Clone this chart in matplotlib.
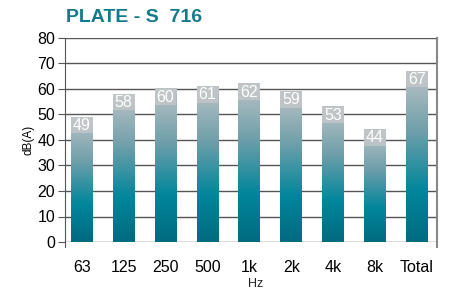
import numpy as np
import matplotlib.pyplot as plt
import matplotlib.transforms as mtransforms
from matplotlib.colors import LinearSegmentedColormap

# Data
bands = ['63', '125', '250', '500', '1k', '2k', '4k', '8k', 'Total']
levels = [49, 58, 60, 61, 62, 59, 53, 44, 67]

teal = '#137a8c'
cmap = LinearSegmentedColormap.from_list(
    'plate', [(0.0, '#006a80'), (0.3, '#00869b'), (0.65, '#6f9faa'), (1.0, '#bcc3c6')])

plt.rcParams['font.family'] = ['Liberation Sans', 'DejaVu Sans']

fig = plt.figure(figsize=(4.54, 2.93), dpi=100)
ax = fig.add_axes([65 / 454, 51 / 293, 372 / 454, 204 / 293])

x = np.arange(len(bands))
w = 0.52
grad = np.linspace(0, 1, 256).reshape(-1, 1)

for xi, v in zip(x, levels):
    ax.imshow(grad, cmap=cmap, origin='lower', aspect='auto',
              extent=[xi - w / 2, xi + w / 2, 0, v], zorder=2, interpolation='bicubic')
    ax.add_patch(plt.Rectangle((xi - w / 2, v - 6.4), w, 6.4, color='#c2c6c8',
                               alpha=0.85, lw=0, zorder=3))
    ax.text(xi, v - 3.2, str(v), ha='center', va='center', color='white',
            fontsize=11.5, zorder=4)

ax.set_xlim(-0.4, 8.48)
ax.set_ylim(0, 80)
ax.set_yticks(range(0, 81, 10))
ax.set_xticks(x)
ax.set_xticklabels(bands)
ax.yaxis.grid(True, color='#555555', lw=1)
ax.set_axisbelow(True)

# x labels sit slightly right of the bar centres in the original
shift = mtransforms.ScaledTranslation(6 / 100, 0, fig.dpi_scale_trans)
for lab in ax.get_xticklabels():
    lab.set_transform(lab.get_transform() + shift)

for s in ['top', 'bottom']:
    ax.spines[s].set_visible(False)
ax.spines['left'].set_color('#555555')
ax.spines['left'].set_bounds(-2, 80)
ax.spines['right'].set_color('#888888')
ax.spines['right'].set_linewidth(1.5)
ax.spines['right'].set_bounds(-2, 80)

ax.tick_params(axis='y', length=5, color='#555555', labelsize=11.5, pad=2)
ax.tick_params(axis='x', length=0, labelsize=11.5, pad=13)

ax.set_ylabel('dB(A)', fontsize=8.5, labelpad=2)
ax.text(4, -16.6, 'Hz', ha='center', va='center', fontsize=9, color='#222222',
        transform=ax.transData + shift)
fig.text(66 / 454, 1 - 18 / 293, 'PLATE - S  716', color=teal,
         fontsize=14, fontweight='bold', ha='left', va='center')

fig.savefig('out.png', dpi=100)
